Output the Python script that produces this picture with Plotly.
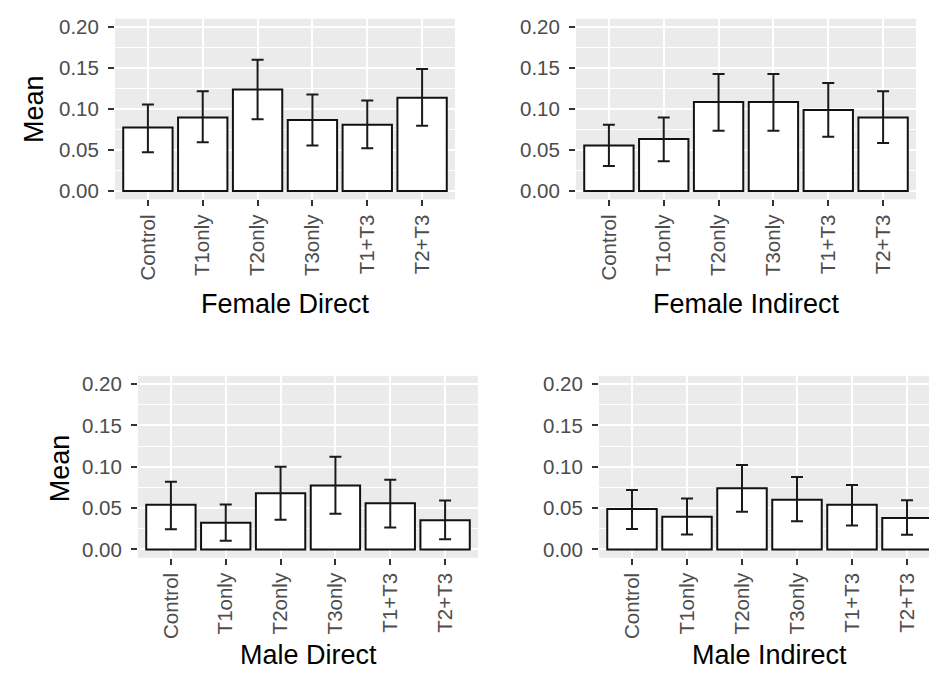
import plotly.graph_objects as go

categories = ["Control", "T1only", "T2only", "T3only", "T1+T3", "T2+T3"]

fd_mean = [0.0775, 0.0896, 0.1237, 0.0867, 0.0807, 0.1137]
fd_upper = [0.1056, 0.1217, 0.1598, 0.1177, 0.1104, 0.1486]
fd_lower = [0.0474, 0.0594, 0.0876, 0.0554, 0.0522, 0.0795]

fi_mean = [0.0554, 0.0635, 0.1084, 0.1084, 0.0988, 0.0896]
fi_upper = [0.0807, 0.0896, 0.1426, 0.1426, 0.1317, 0.1217]
fi_lower = [0.0305, 0.0365, 0.0735, 0.0735, 0.0663, 0.0586]

md_mean = [0.0540, 0.0324, 0.0680, 0.0772, 0.0560, 0.0352]
md_upper = [0.0820, 0.0544, 0.1000, 0.1120, 0.0844, 0.0592]
md_lower = [0.0244, 0.0104, 0.0360, 0.0432, 0.0264, 0.0124]

mi_mean = [0.0488, 0.0396, 0.0740, 0.0600, 0.0540, 0.0380]
mi_upper = [0.0720, 0.0616, 0.1020, 0.0876, 0.0780, 0.0596]
mi_lower = [0.0248, 0.0180, 0.0456, 0.0340, 0.0288, 0.0176]

panel_titles = ["Female Direct", "Female Indirect", "Male Direct", "Male Indirect"]
y_ticks = [0.00, 0.05, 0.10, 0.15, 0.20]
y_tick_labels = ["0.00", "0.05", "0.10", "0.15", "0.20"]

W, H = 937, 673
FONT = "Liberation Sans, Arial, Helvetica, sans-serif"
TICK_SIZE = 20.5
TITLE_SIZE = 27

panels = [
    (fd_mean, fd_upper, fd_lower),
    (fi_mean, fi_upper, fi_lower),
    (md_mean, md_upper, md_lower),
    (mi_mean, mi_upper, mi_lower),
]
# pixel boxes (left, right, top, bottom)
boxes = [
    (107, 447, 6.7, 189.3),
    (568, 908, 6.7, 189.3),
    (130, 470, 367.7, 551.4),
    (591, 932, 367.7, 551.4),
]

fig = go.Figure()
layout = dict(
    width=W, height=H, autosize=False,
    margin=dict(l=0, r=0, t=0, b=0),
    paper_bgcolor="white", plot_bgcolor="#EBEBEB",
    showlegend=False, bargap=0.1,
    font=dict(family=FONT),
)
annotations = []
for i, ((m, up, lo), (l, r, t, b)) in enumerate(zip(panels, boxes)):
    k = "" if i == 0 else str(i + 1)
    fig.add_trace(go.Bar(
        x=categories, y=m,
        xaxis="x" + k, yaxis="y" + k,
        width=0.9,
        marker=dict(color="white", line=dict(color="#111111", width=2)),
        error_y=dict(type="data", symmetric=False,
                     array=[u - v for u, v in zip(up, m)],
                     arrayminus=[v - w for v, w in zip(m, lo)],
                     color="#1a1a1a", thickness=2, width=6),
    ))
    layout["xaxis" + k] = dict(
        domain=[l / W, r / W], anchor="y" + k,
        type="category", range=[-0.6, 5.6],
        showgrid=True, gridcolor="white", gridwidth=1.6,
        zeroline=False, showline=False,
        ticks="outside", ticklen=6, tickwidth=1.5, tickcolor="#333333",
        tickangle=-90, tickfont=dict(size=TICK_SIZE, color="#4D4D4D", family=FONT),
    )
    layout["yaxis" + k] = dict(
        domain=[1 - b / H, 1 - t / H], anchor="x" + k,
        range=[-0.01, 0.21],
        tickvals=y_ticks, ticktext=y_tick_labels,
        showgrid=True, gridcolor="white", gridwidth=1.6,
        minor=dict(showgrid=True, gridcolor="white", gridwidth=0.8, dtick=0.025, tick0=0),
        zeroline=False, showline=False,
        ticks="outside", ticklen=6, tickwidth=1.5, tickcolor="#333333",
        ticklabelstandoff=5,
        tickfont=dict(size=TICK_SIZE, color="#4D4D4D", family=FONT),
    )
    ty = 312 if i < 2 else 667
    annotations.append(dict(
        text=panel_titles[i], x=(l + r) / 2 / W, y=1 - ty / H,
        xref="paper", yref="paper", showarrow=False,
        xanchor="center", yanchor="bottom",
        font=dict(size=TITLE_SIZE, color="black", family=FONT),
    ))

annotations.append(dict(text="Mean", x=26 / W, y=1 - 98 / H, xref="paper", yref="paper",
                        showarrow=False, textangle=-90, xanchor="center", yanchor="middle",
                        font=dict(size=TITLE_SIZE, color="black", family=FONT)))
annotations.append(dict(text="Mean", x=52 / W, y=1 - 461 / H, xref="paper", yref="paper",
                        showarrow=False, textangle=-90, xanchor="center", yanchor="middle",
                        font=dict(size=TITLE_SIZE, color="black", family=FONT)))
layout["annotations"] = annotations
fig.update_layout(**layout)
fig.write_html("out.html")
